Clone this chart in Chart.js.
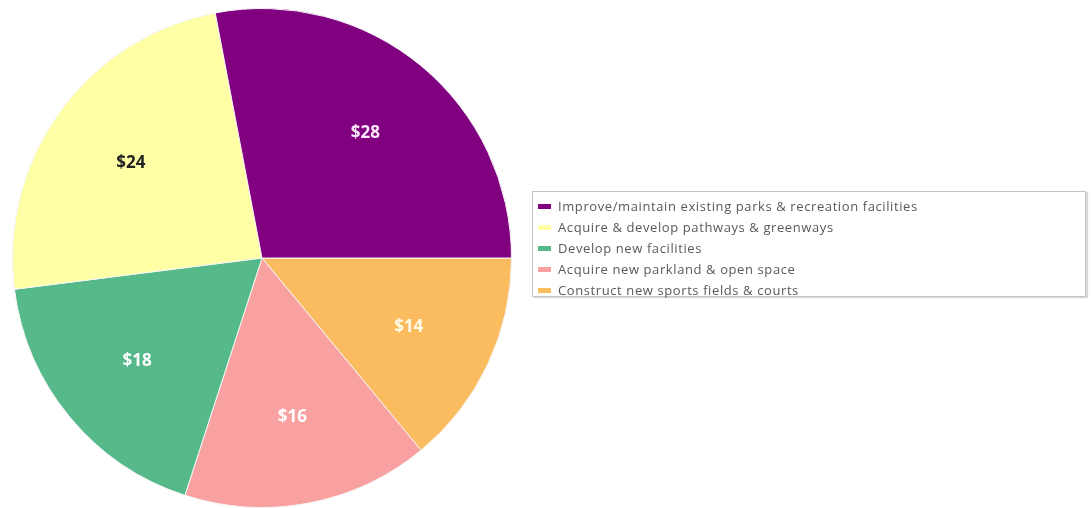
<!DOCTYPE html>
<html>
<head>
<meta charset="utf-8">
<script src="https://cdn.jsdelivr.net/npm/chart.js@4"></script>
<style>
body { margin: 0; background: #fff; }
#wrap { position: relative; width: 1092px; height: 508px; }
#legend {
  position: absolute; left: 532px; top: 191px; width: 554px; height: 106px;
  border: 1px solid #c4c4c4; box-shadow: 2px 1px 1px #d8d8d8;
  font-family: "Open Sans", sans-serif; font-size: 13px; letter-spacing: 0.6px; color: #595959;
  box-sizing: border-box; padding-top: 4px;
}
#legend div { height: 21px; line-height: 21px; padding-left: 25px; position: relative; white-space: nowrap; }
#legend span { position: absolute; left: 5px; top: 8px; width: 13px; height: 5px; }
</style>
</head>
<body>
<div id="wrap">
<canvas id="myChart" width="1092" height="508"></canvas>
<div id="legend"></div>
</div>
<script>
// legend order as in the picture
var labels = ["Improve/maintain existing parks & recreation facilities",
              "Acquire & develop pathways & greenways",
              "Develop new facilities",
              "Acquire new parkland & open space",
              "Construct new sports fields & courts"];
var values = [28, 24, 18, 16, 14];
var colors = ['#800080', '#ffffa6', '#55b98a', '#f9a1a1', '#fbbc5f'];
var labelColors = ['#fde8fd', '#222', '#fff', '#fff', '#fffbe8'];

// slices go counter-clockwise in the original, so draw them reversed
var rl = labels.slice().reverse();
var rv = values.slice().reverse();
var rc = colors.slice().reverse();
var rt = labelColors.slice().reverse();

var valueLabels = {
  id: 'valueLabels',
  afterDatasetsDraw: function(chart) {
    var ctx = chart.ctx;
    var meta = chart.getDatasetMeta(0);
    ctx.save();
    ctx.font = 'bold 17px "Open Sans", sans-serif';
    ctx.textAlign = 'center';
    ctx.textBaseline = 'middle';
    meta.data.forEach(function(arc, i) {
      var p = arc.getProps(['startAngle', 'endAngle', 'outerRadius', 'x', 'y'], true);
      var a = (p.startAngle + p.endAngle) / 2;
      var r = p.outerRadius * 0.65;
      ctx.fillStyle = rt[i];
      ctx.fillText('$' + rv[i], p.x + Math.cos(a) * r, p.y + Math.sin(a) * r);
    });
    ctx.restore();
  }
};

var ctx = document.getElementById('myChart').getContext('2d');
var chart = new Chart(ctx, {
  type: 'pie',
  data: {
    labels: rl,
    datasets: [{
      data: rv,
      backgroundColor: rc,
      borderColor: '#f4f4f4',
      borderWidth: 1
    }]
  },
  options: {
    responsive: false,
    animation: false,
    rotation: 90,
    layout: { padding: { left: 12, top: 8, right: 580, bottom: 0 } },
    plugins: { legend: { display: false }, tooltip: { enabled: false } }
  },
  plugins: [valueLabels]
});

var lg = document.getElementById('legend');
labels.forEach(function(l, i) {
  var d = document.createElement('div');
  var s = document.createElement('span');
  s.style.background = colors[i];
  d.appendChild(s);
  d.appendChild(document.createTextNode(l));
  lg.appendChild(d);
});
</script>
</body>
</html>
